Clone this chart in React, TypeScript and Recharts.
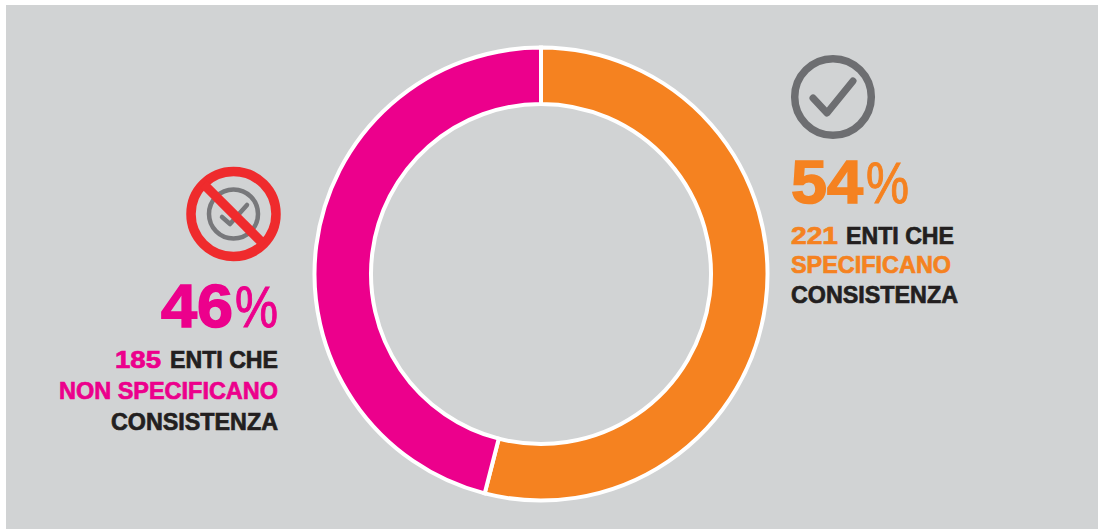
import { PieChart, Pie, Cell } from "recharts";

const segments = ["Specificano", "Non specificano"];
const shares = [54, 46];
const segmentColors = ["#F58220", "#EC008C"];

const pieData = segments.map((name, i) => ({ name, value: shares[i] }));

const font = "'Liberation Sans', Arial, sans-serif";
const ink = "#231F20";
const orange = "#F58220";
const pink = "#EC008C";

// Liberation bold is lighter than the original face, so each run gets a thin outline
const Run = ({ x, y, w, size = 24, fill, bold = 0.7, weight = 700, children }: any) => (
  <text
    x={x}
    y={y}
    fontSize={size}
    fontWeight={weight}
    fill={fill}
    stroke={fill}
    strokeWidth={bold}
    textLength={w}
    lengthAdjust="spacingAndGlyphs"
  >
    {children}
  </text>
);

const Labels = () => (
  <svg width={1098} height={529} style={{ position: "absolute", left: 0, top: 0 }} fontFamily={font}>
    {/* check icon */}
    <circle cx={833} cy={97} r={38.3} fill="none" stroke="#6D6E71" strokeWidth={7.5} />
    <polyline
      points="813,98 827,113 853,81"
      fill="none"
      stroke="#6D6E71"
      strokeWidth={7}
      strokeLinecap="round"
      strokeLinejoin="round"
    />

    {/* crossed check icon */}
    <circle cx={233.5} cy={214} r={24.5} fill="none" stroke="#77787B" strokeWidth={4.5} />
    <polyline
      points="222,217 230,224 247,205"
      fill="none"
      stroke="#77787B"
      strokeWidth={4.5}
      strokeLinecap="round"
      strokeLinejoin="round"
    />
    <circle cx={233.5} cy={214} r={42.5} fill="none" stroke="#EF2B2D" strokeWidth={9.5} />
    <line x1={203.5} y1={184} x2={263.5} y2={244} stroke="#EF2B2D" strokeWidth={9.5} />

    {/* right block */}
    <Run x={791} y={203} w={72} size={62} fill={orange} bold={1.6}>54</Run>
    <Run x={866} y={203} w={43} size={58} fill={orange} bold={1} weight={400}>%</Run>
    <Run x={791} y={244} w={47} fill={orange}>221</Run>
    <Run x={846} y={244} w={108} fill={ink}>ENTI CHE</Run>
    <Run x={791} y={273} w={160} fill={orange}>SPECIFICANO</Run>
    <Run x={791} y={303} w={167} fill={ink}>CONSISTENZA</Run>

    {/* left block */}
    <Run x={161} y={327} w={72} size={62} fill={pink} bold={1.6}>46</Run>
    <Run x={235} y={327} w={43} size={58} fill={pink} bold={1} weight={400}>%</Run>
    <Run x={115} y={368} w={46} fill={pink}>185</Run>
    <Run x={170} y={368} w={108} fill={ink}>ENTI CHE</Run>
    <Run x={59} y={399} w={219} fill={pink}>NON SPECIFICANO</Run>
    <Run x={111} y={430} w={167} fill={ink}>CONSISTENZA</Run>
  </svg>
);

export default function App() {
  return (
    <div style={{ position: "absolute", left: 0, top: 0, width: 1098, height: 529, background: "#fff", overflow: "hidden" }}>
      <div style={{ position: "absolute", left: 6, top: 5, right: 0, bottom: 0, background: "#D1D3D4" }} />
      <div style={{ position: "absolute", left: 0, top: 0 }}>
        <PieChart width={1098} height={529} margin={{ top: 0, right: 0, bottom: 0, left: 0 }}>
          <Pie
            data={pieData}
            dataKey="value"
            nameKey="name"
            cx={541}
            cy={274}
            outerRadius={226.5}
            innerRadius={170}
            startAngle={90}
            endAngle={-270}
            stroke="#fff"
            strokeWidth={4}
            isAnimationActive={false}
          >
            {pieData.map((d, i) => (
              <Cell key={d.name} fill={segmentColors[i]} />
            ))}
          </Pie>
        </PieChart>
      </div>
      <Labels />
    </div>
  );
}
